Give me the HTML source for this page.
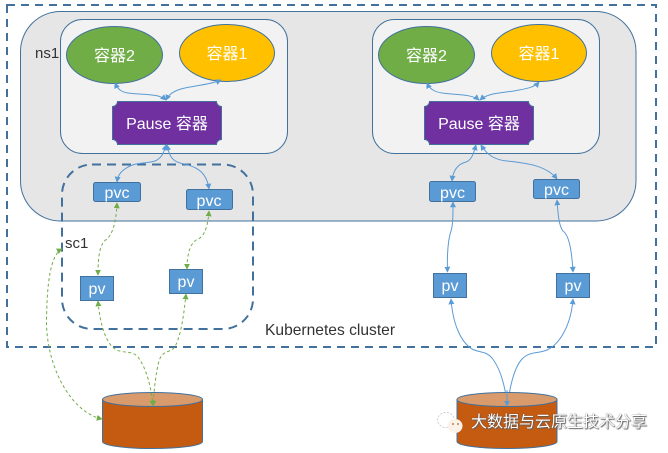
<!DOCTYPE html>
<html>
<head>
<meta charset="utf-8">
<style>
html,body{margin:0;padding:0;background:#fff}
body{position:relative;width:668px;height:453px;overflow:hidden}
svg{display:block}
text{font-family:"Liberation Sans","Noto Sans CJK SC",sans-serif}
.l{fill:#fff;font-size:16px;text-anchor:middle}
.k{fill:#333;font-size:15px}
.b{fill:none;stroke:#5b9bd5;stroke-width:1}
.g{fill:none;stroke:#70ad47;stroke-width:1;stroke-dasharray:3 2.5}
.box{fill:#5b9bd5;stroke:#41719c;stroke-width:1}
#wm{position:absolute;left:471px;top:413px;font:16px/20px "Liberation Sans","Noto Sans CJK SC",sans-serif;color:#fff;white-space:nowrap;text-shadow:0 0 1px #333,1px 1px 1px #666}
</style>
</head>
<body>
<svg width="668" height="453" viewBox="0 0 668 453" xmlns="http://www.w3.org/2000/svg">
<defs>
<marker id="ab" viewBox="0 0 8 8" refX="7" refY="4" markerWidth="6" markerHeight="6" orient="auto-start-reverse" markerUnits="userSpaceOnUse"><path d="M0 0L8 4L0 8Z" fill="#5b9bd5"/></marker>
<marker id="ag" viewBox="0 0 8 8" refX="7" refY="4" markerWidth="6" markerHeight="6" orient="auto-start-reverse" markerUnits="userSpaceOnUse"><path d="M0 0L8 4L0 8Z" fill="#70ad47"/></marker>
<g id="pod">
<rect x="60.5" y="19.5" width="227" height="134" rx="22" fill="#f2f2f2" stroke="#41719c"/>
<ellipse cx="114.5" cy="55" rx="48" ry="28.5" fill="#70ad47" stroke="#41719c"/>
<ellipse cx="227" cy="53" rx="47.5" ry="28.5" fill="#ffc000" stroke="#41719c"/>
<path d="M117.500 101.500H216.500A5 5 0 0 0 221.500 106.500V139.500A5 5 0 0 0 216.500 144.500H117.500A5 5 0 0 0 112.500 139.500V106.500A5 5 0 0 0 117.500 101.500Z" fill="#7030a0" stroke="#41719c"/>
<text class="l" x="114.500" y="61">容器2</text>
<text class="l" x="227" y="59">容器1</text>
<text class="l" x="167" y="129">Pause 容器</text>
</g>
<g id="cyl">
<path d="M102.500 399.500V441.500C102.500 445.500 125 448.500 152.500 448.500S202.500 445.500 202.500 441.500V399.500Z" fill="#c55a11" stroke="#41719c"/>
<ellipse cx="152.500" cy="399.500" rx="50" ry="7" fill="#d99a6c" stroke="#41719c"/>
</g>
</defs>
<rect width="668" height="453" fill="#fff"/>
<rect x="20.500" y="11.500" width="615.500" height="209.500" rx="40" fill="#e6e6e6" stroke="#41719c"/>
<rect x="7" y="5" width="649" height="342" fill="none" stroke="#41719c" stroke-width="2" stroke-dasharray="8 6"/>
<use href="#pod"/>
<use href="#pod" x="312"/>
<rect x="62" y="164.500" width="191" height="164.500" rx="30" fill="none" stroke="#41719c" stroke-width="2" stroke-dasharray="9 6"/>
<text class="k" x="35" y="58">ns1</text>
<text class="k" x="65" y="248">sc1</text>
<text class="k" x="265" y="335" style="font-size:15.600px">Kubernetes cluster</text>

<!-- blue connectors, left pod -->
<path class="b" d="M115 83C118 90 122 92 128 93C142 95 158 93 166 100" marker-start="url(#ab)" marker-end="url(#ab)"/>
<path class="b" d="M221 80C212 84 200 85 190 87C178 89 170 92 166 100" marker-start="url(#ab)" marker-end="url(#ab)"/>
<path class="b" d="M166 145C164 152 162 158 155 161C145 164 138 162 130 166C122 170 118 174 117 182" marker-start="url(#ab)" marker-end="url(#ab)"/>
<path class="b" d="M167 145C169 155 172 161 180 163C192 166 206 168 209 189" marker-start="url(#ab)" marker-end="url(#ab)"/>
<!-- blue connectors, right pod -->
<path class="b" d="M427 83C430 90 436 92 442 93C456 95 472 94 479 100" marker-start="url(#ab)" marker-end="url(#ab)"/>
<path class="b" d="M539 82C534 88 524 89 514 91C500 93 488 93 480 100" marker-start="url(#ab)" marker-end="url(#ab)"/>
<path class="b" d="M476 145C474 152 472 160 466 162C458 164 453 170 452 181" marker-start="url(#ab)" marker-end="url(#ab)"/>
<path class="b" d="M481 145C487 155 495 160 507 161C525 163 546 165 557 179" marker-start="url(#ab)" marker-end="url(#ab)"/>
<path class="b" d="M453 202C453 215 453 225 451 231C448 240 447 255 447.500 272" marker-start="url(#ab)" marker-end="url(#ab)"/>
<path class="b" d="M557 200C558 215 559 226 563 231C570 236 572 255 573 272" marker-start="url(#ab)" marker-end="url(#ab)"/>
<path class="b" d="M451 299C453 325 461 342 472 349C480 353 486 351 492 358C500 368 505 385 507.500 406" marker-start="url(#ab)" marker-end="url(#ab)"/>
<path class="b" d="M573 299C571 325 560 344 547 350C537 354 530 351 522 359C514 368 510 385 507.500 406" marker-start="url(#ab)" marker-end="url(#ab)"/>

<rect class="box" x="93.500" y="182.500" width="47" height="19" rx="2"/>
<rect class="box" x="186.500" y="189.500" width="46" height="20" rx="2"/>
<rect class="box" x="429.500" y="181.500" width="46" height="20" rx="2"/>
<rect class="box" x="533.500" y="179.500" width="46" height="19" rx="2"/>
<rect class="box" x="80.500" y="276.500" width="33" height="24"/>
<rect class="box" x="169.500" y="269.500" width="33" height="24"/>
<rect class="box" x="433.500" y="273.500" width="33" height="24"/>
<rect class="box" x="556.500" y="273.500" width="33" height="24"/>
<text class="l" x="117" y="198">pvc</text>
<text class="l" x="209" y="206">pvc</text>
<text class="l" x="452.500" y="198">pvc</text>
<text class="l" x="556.500" y="195">pvc</text>
<text class="l" x="97" y="294">pv</text>
<text class="l" x="186" y="287">pv</text>
<text class="l" x="450" y="291">pv</text>
<text class="l" x="573" y="291">pv</text>

<use href="#cyl"/>
<use href="#cyl" x="354.500"/>
<path class="b" d="M507 390V406" marker-end="url(#ab)"/>

<!-- green connectors -->
<path class="g" d="M117 203C116 225 112 234 107 239C100 243 98 255 98 275" marker-start="url(#ag)" marker-end="url(#ag)"/>
<path class="g" d="M209 211C208 225 205 236 198 239C191 242 187 252 187 269" marker-start="url(#ag)" marker-end="url(#ag)"/>
<path class="g" d="M98 301C100 325 106 343 115 349C123 354 132 350 138 357C146 368 151 385 153 406" marker-start="url(#ag)" marker-end="url(#ag)"/>
<path class="g" d="M186 294C184 315 180 342 173 349C166 353 162 352 159 361C156 372 154 390 153 406" marker-start="url(#ag)" marker-end="url(#ag)"/>
<path class="g" d="M62 249C50 255 47 285 46.500 320C46 365 70 412 102 419" marker-start="url(#ag)" marker-end="url(#ag)"/>

<!-- watermark icon -->
<ellipse cx="446" cy="420" rx="8.500" ry="7.500" fill="#fff" stroke="#bbb" stroke-width="0.7" stroke-dasharray="2 1.500"/>
<ellipse cx="455" cy="426" rx="7.500" ry="7" fill="#fbf3ea"/>
<circle cx="453" cy="424" r="0.900" fill="#a06030"/>
<circle cx="458" cy="424" r="0.900" fill="#a06030"/>
</svg>
<div id="wm">大数据与云原生技术分享</div>
</body>
</html>
